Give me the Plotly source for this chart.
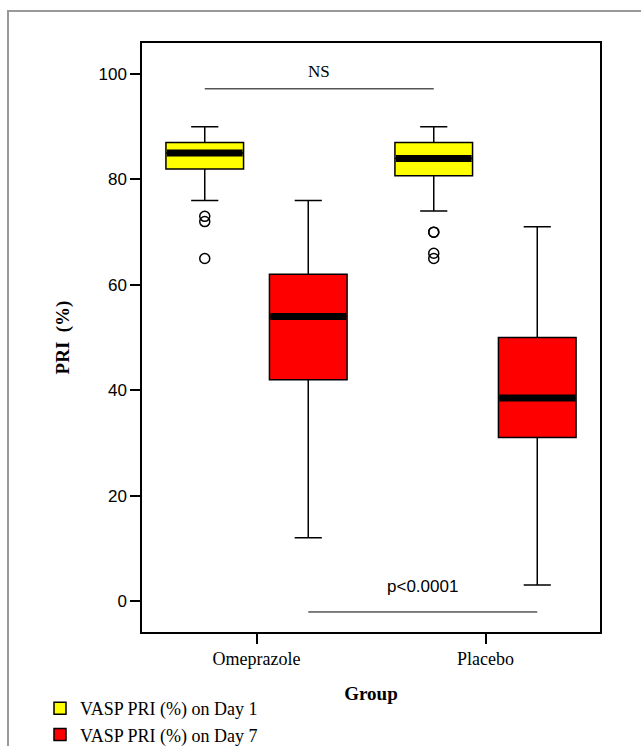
import plotly.graph_objects as go

# ---- data ----
groups = ["Omeprazole", "Placebo"]
series_names = ["VASP PRI (%) on Day 1", "VASP PRI (%) on Day 7"]

day1_upper = [90, 90]
day1_q3 = [87, 87]
day1_median = [85, 84]
day1_q1 = [82, 80.7]
day1_lower = [76, 74]
day1_outliers = [[73, 72, 65], [70, 70, 66, 65]]

day7_upper = [76, 71]
day7_q3 = [62, 50]
day7_median = [54, 38.5]
day7_q1 = [42, 31]
day7_lower = [12, 3]
day7_outliers = [[], []]

y_ticks = [0, 20, 40, 60, 80, 100]

# ---- layout constants ----
OFFSET = 0.226
BOXW = 0.339
SERIF = "Liberation Serif, Times New Roman, serif"
SANS = "Liberation Sans, Arial, sans-serif"

idx = list(range(len(groups)))
pos1 = [i - OFFSET for i in idx]
pos7 = [i + OFFSET for i in idx]

fig = go.Figure()


def add_box(pos, q1, med, q3, lo, hi, color, name):
    fig.add_trace(go.Box(
        x=pos, q1=q1, median=med, q3=q3, lowerfence=lo, upperfence=hi,
        width=BOXW, whiskerwidth=0.35, fillcolor=color,
        line=dict(color="black", width=1.5), boxpoints=False,
        name=name, showlegend=True, hoverinfo="skip"))


add_box(pos1, day1_q1, day1_median, day1_q3, day1_lower, day1_upper, "#FFFF00", series_names[0])
add_box(pos7, day7_q1, day7_median, day7_q3, day7_lower, day7_upper, "#FF0000", series_names[1])

# thick median bars
mx, my = [], []
for pos, med in ((pos1, day1_median), (pos7, day7_median)):
    for p, m in zip(pos, med):
        mx += [p - BOXW / 2 + 0.004, p + BOXW / 2 - 0.004, None]
        my += [m, m, None]
fig.add_trace(go.Scatter(x=mx, y=my, mode="lines", line=dict(color="black", width=7),
                         showlegend=False, hoverinfo="skip"))

# outliers
ox, oy = [], []
for pos, outs in ((pos1, day1_outliers), (pos7, day7_outliers)):
    for p, vals in zip(pos, outs):
        for v in vals:
            ox.append(p)
            oy.append(v)
fig.add_trace(go.Scatter(x=ox, y=oy, mode="markers",
                         marker=dict(symbol="circle-open", size=10, color="black", line=dict(width=1.5)),
                         showlegend=False, hoverinfo="skip"))

# significance lines
NS_Y = 97.2
P_Y = -2.1
fig.add_shape(type="line", x0=pos1[0], x1=pos1[1], y0=NS_Y, y1=NS_Y, xref="x", yref="y",
              line=dict(color="black", width=1))
fig.add_shape(type="line", x0=pos7[0], x1=pos7[1], y0=P_Y, y1=P_Y, xref="x", yref="y",
              line=dict(color="black", width=1))
fig.add_annotation(x=(pos1[0] + pos1[1]) / 2, y=100.4, text="NS", showarrow=False,
                   font=dict(family=SERIF, size=17, color="black"))
fig.add_annotation(x=(pos7[0] + pos7[1]) / 2, y=2.7, text="p<0.0001", showarrow=False,
                   font=dict(family=SANS, size=17, color="black"))

# outer grey frame
fig.add_shape(type="rect", xref="paper", yref="paper",
              x0=(8 - 142) / 458, x1=1.5, y0=(632 - 11) / 589, y1=-0.5,
              line=dict(color="#999999", width=2), layer="below")

fig.update_layout(
    width=641, height=746,
    margin=dict(l=142, r=41, t=43, b=114, autoexpand=False),
    paper_bgcolor="white", plot_bgcolor="white",
    showlegend=True,
    legend=dict(x=(40 - 142) / 458, y=(632 - 690) / 589, xanchor="left", yanchor="top",
                font=dict(family=SERIF, size=18, color="black"),
                bgcolor="rgba(0,0,0,0)", traceorder="normal"),
    xaxis=dict(range=[-0.5, 1.5], tickvals=idx, ticktext=groups,
               ticks="outside", ticklen=10, tickwidth=1.5, tickcolor="black",
               showline=True, linecolor="black", linewidth=1.5, mirror=True,
               showgrid=False, zeroline=False, automargin=False,
               tickfont=dict(family=SERIF, size=18, color="black"),
               title=dict(text="<b>Group</b>", font=dict(family=SERIF, size=19, color="black"),
                          standoff=18)),
    yaxis=dict(range=[-5.9, 105.9], tickvals=y_ticks,
               ticks="outside", ticklen=10, tickwidth=1.5, tickcolor="black",
               showline=True, linecolor="black", linewidth=1.5, mirror=True,
               showgrid=False, zeroline=False, automargin=False,
               tickfont=dict(family=SANS, size=17, color="black"),
               title=dict(text="<b>PRI  (%)</b>", font=dict(family=SERIF, size=19, color="black"),
                          standoff=24)),
)

fig.write_html("out.html", config={"displayModeBar": False},
               post_script="document.body.style.margin='0';document.body.style.overflow='hidden';")
